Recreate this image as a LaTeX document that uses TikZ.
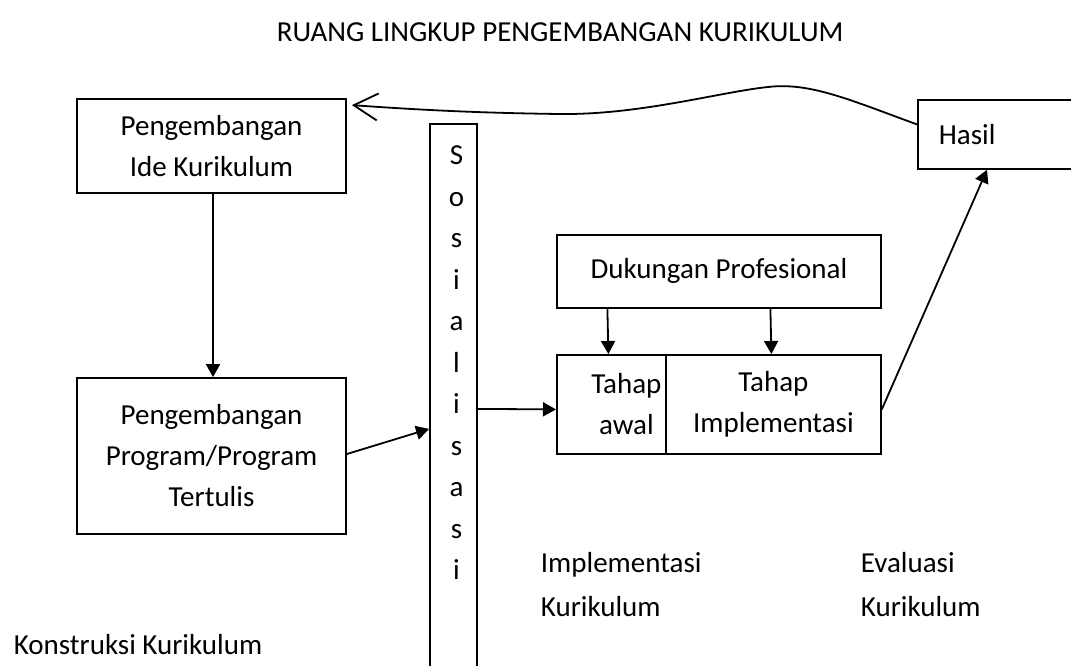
\documentclass[tikz,border=0pt]{standalone}
\usepackage{fontspec}
\setmainfont{Carlito}
\usetikzlibrary{arrows.meta}

\begin{document}
\begin{tikzpicture}[x=1pt, y=-1pt, line width=1.8pt,
    every node/.style={font=\fontsize{29}{41}\selectfont},
    kotak/.style={draw, align=center, inner sep=0pt},
    panah/.style={-{Triangle[length=13pt,width=14pt]}},
    teks/.style={inner sep=0pt, align=left, anchor=west, font=\fontsize{29}{44}\selectfont}]
  \useasboundingbox (0,0) rectangle (1071,666);
  \clip (0,0) rectangle (1071,666);
  % Judul
  \node (judul) at (560,32) {RUANG LINGKUP PENGEMBANGAN KURIKULUM};
  % Konstruksi
  \node[kotak, minimum width=269pt, minimum height=94pt] (ide) at (211.5,146) {Pengembangan\\Ide Kurikulum};
  \node[kotak, minimum width=269pt, minimum height=156pt] (prog) at (211.5,456) {Pengembangan\\Program/Program\\Tertulis};
  % Sosialisasi
  \node[kotak, minimum width=47pt, minimum height=560pt, anchor=north] (sos) at (453.5,123) {};
  \node[inner sep=0pt, anchor=north, align=center, font=\fontsize{29}{41.5}\selectfont] (huruf) at ([xshift=3pt,yshift=-22pt]sos.north) {S\\o\\s\\i\\a\\l\\i\\s\\a\\s\\i};
  % Implementasi
  \node[kotak, minimum width=324pt, minimum height=73pt, anchor=north west] (dukungan) at (556,234) {Dukungan Profesional};
  \node[kotak, minimum width=109pt, minimum height=99pt, anchor=north west] (awal) at (556,354) {\hspace*{30pt}Tahap\\\hspace*{30pt}awal};
  \node[kotak, minimum width=215pt, minimum height=99pt, anchor=north west] (impl) at (665,354) {Tahap\\Implementasi};
  % Evaluasi
  \node[kotak, anchor=north west, minimum height=69pt, text width=128pt, align=left, inner xsep=21pt] (hasil) at (917,99) {Hasil};
  % Panah
  \draw[panah] ([xshift=1.5pt]ide.south) -- ([xshift=1.5pt]prog.north);
  \draw[panah] ([yshift=2pt]prog.east) -- ([yshift=-25pt]sos.west);
  \draw[panah] ([yshift=-5pt]sos.east) -- ([yshift=-5pt]awal.west);
  \draw[panah] ([xshift=-4pt]dukungan.south -| awal.north) -- ([xshift=-3pt]awal.north);
  \draw[panah] ([xshift=-3pt]dukungan.south -| impl.north) -- ([xshift=-2pt]impl.north);
  \draw[panah] ([yshift=-5pt]impl.east) -- ([xshift=70pt]hasil.south west);
  \draw[-{Straight Barb[length=24pt,width=27pt]}] ([yshift=10pt]hasil.west)
    .. controls (850,100) and (810,82) .. (768,87)
    .. controls (720,92) and (640,115) .. (560,114)
    .. controls (480,113) and (420,110) .. ([xshift=5pt,yshift=-7pt]ide.north east);
  % Label
  \node[teks] (implabel) at (540,585) {Implementasi\\Kurikulum};
  \node[teks] (evallabel) at (860,585) {Evaluasi\\Kurikulum};
  \node[teks] (konstruksi) at (13,645) {Konstruksi Kurikulum};
\end{tikzpicture}
\end{document}
